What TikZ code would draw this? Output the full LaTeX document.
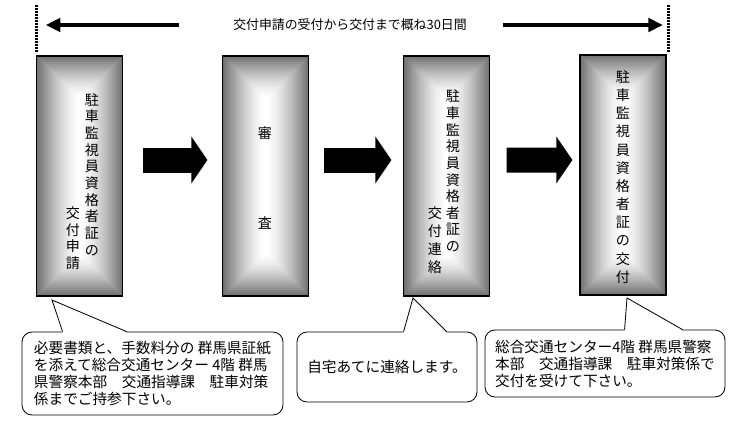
\documentclass[tikz,border=0pt]{standalone}
\usepackage{fontspec}
\setmainfont{Noto Sans CJK JP}
\usetikzlibrary{arrows.meta}

\begin{document}
\begin{tikzpicture}[x=0.3mm,y=-0.3mm]
\definecolor{edgegray}{RGB}{112,112,112}
\tikzset{
  card/.style={draw, line width=1pt, minimum width=25.8mm, minimum height=72mm, inner sep=0pt,
    path picture={
      \foreach \i in {0,...,43}{
        \pgfmathtruncatemacro\pct{100*(1-\i/43)^1.5}
        \fill[edgegray!\pct!white] ([xshift=\i*0.3mm,yshift=-\i*0.3mm]path picture bounding box.north west)
          rectangle ([xshift=-\i*0.3mm,yshift=\i*0.3mm]path picture bounding box.south east);
      }
    }},
  tate/.style={align=center, inner sep=0pt, font=\fontsize{12}{14.2}\selectfont},
  blockarrow/.style={line width=7.5mm, -{Triangle[length=4.8mm,width=13.8mm]}},
  spanarrow/.style={line width=1.1mm, -{Triangle[length=4.4mm,width=4mm]}},
  guide/.style={line width=0.9mm, dash pattern=on 0.6mm off 0.3mm},
  callout/.style={draw, line width=0.7pt, fill=white, rounded corners=3mm, inner sep=0pt, align=left, font=\fontsize{12.5}{14.5}\selectfont},
  pointer/.style={line width=0.7pt},
}
\path[use as bounding box] (0,0) rectangle (740,432);

% period of issue
\draw[guide] (36,5) -- (36,53);
\draw[guide] (668,5) -- (668,53);
\coordinate (gl) at (36,25);
\coordinate (gr) at (668,25);
\node[inner sep=0pt, font=\fontsize{11}{13}\selectfont] (span) at (350,25) {交付申請の受付から交付まで概ね30日間};
\draw[spanarrow, shorten <=16.2mm, shorten >=2.9mm] (span.west) -- (gl);
\draw[spanarrow, shorten <=10.7mm, shorten >=1.5mm] (span.east) -- (gr);

% steps
\node[card] (b1) at (79.5,176) {};
\node[card] (b2) at (265.5,176) {};
\node[card] (b3) at (446.5,176) {};
\node[card] (b4) at (623,175) {};

\node[tate] (t1) at (92,174.5) {駐\\車\\監\\視\\員\\資\\格\\者\\証\\の};
\node[tate] (t1b) at (73,238) {交\\付\\申\\請};
\node[tate] (t2) at (265,133) {審};
\node[tate] (t2b) at (265,223) {査};
\node[tate] (t3) at (453,171) {駐\\車\\監\\視\\員\\資\\格\\者\\証\\の};
\node[tate, font=\fontsize{12}{15.2}\selectfont] (t3b) at (435,240) {交\\付\\連\\絡};
\node[tate, font=\fontsize{12}{15.5}\selectfont] (t4) at (623,177) {駐\\車\\監\\視\\員\\資\\格\\者\\証\\の\\交\\付};

\draw[blockarrow, shorten <=5.85mm, shorten >=4.35mm] ([yshift=4.8mm]b1.east) -- ([yshift=4.8mm]b2.west);
\draw[blockarrow, shorten <=4.35mm, shorten >=3.45mm] ([yshift=4.8mm]b2.east) -- ([yshift=4.8mm]b3.west);
\draw[blockarrow, shorten <=4.95mm, shorten >=2.1mm] ([yshift=4.8mm]b3.east) -- ([yshift=4.5mm]b4.west);

% notes
\node[callout, minimum width=78.3mm, minimum height=24.9mm] (c1) at (152.5,373.5)
  {必要書類と、手数料分の 群馬県証紙\\を添えて総合交通センター 4階 群馬\\県警察本部　交通指導課　駐車対策\\係までご持参下さい。};
\node[callout, align=center, minimum width=54mm, minimum height=21mm] (c2) at (387,367)
  {自宅あてに連絡します。};
\node[callout, minimum width=72mm, minimum height=20.1mm] (c3) at (605,363.5)
  {総合交通センター4階 群馬県警察\\本部　交通指導課　駐車対策係で\\交付を受けて下さい。};

\coordinate (p1) at (52,300);
\coordinate (p2) at (413,298);
\coordinate (p3) at (627,298);
\fill[white] ([xshift=12.3mm,yshift=-1pt]c1.north west) -- (p1) -- ([xshift=31.5mm,yshift=-1pt]c1.north west) -- cycle;
\draw[pointer] ([xshift=12.3mm]c1.north west) -- (p1) -- ([xshift=31.5mm]c1.north west);
\fill[white] ([xshift=32.1mm,yshift=-1pt]c2.north west) -- (p2) -- ([xshift=45mm,yshift=-1pt]c2.north west) -- cycle;
\draw[pointer] ([xshift=32.1mm]c2.north west) -- (p2) -- ([xshift=45mm]c2.north west);
\fill[white] ([xshift=42mm,yshift=-1pt]c3.north west) -- (p3) -- ([xshift=59.4mm,yshift=-1pt]c3.north west) -- cycle;
\draw[pointer] ([xshift=42mm]c3.north west) -- (p3) -- ([xshift=59.4mm]c3.north west);
\end{tikzpicture}
\end{document}
